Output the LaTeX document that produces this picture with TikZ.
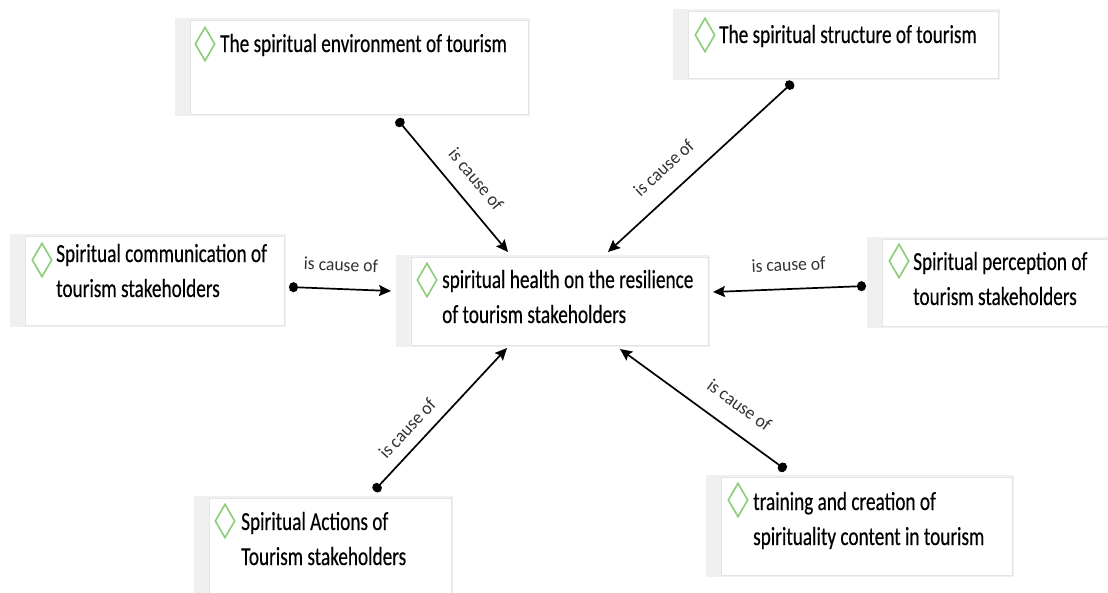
\documentclass[tikz,border=0pt]{standalone}
\usepackage{fontspec}
\newfontfamily\boxfont[FakeStretch=0.74,FakeBold=0.35]{Carlito}
\newfontfamily\labfont[FakeStretch=0.95]{Carlito}
\usetikzlibrary{arrows.meta,shapes.geometric}
\definecolor{framegrey}{RGB}{240,240,240}
\definecolor{innerline}{RGB}{228,228,228}
\definecolor{diamgreen}{RGB}{140,205,120}
\definecolor{labelgrey}{RGB}{50,50,50}
\tikzset{
  outerbox/.style={rectangle, fill=framegrey, draw=none, inner sep=0pt, anchor=north west},
  innerbox/.style={fill=white, draw=innerline, line width=0.8pt},
  diam/.style={diamond, draw=diamgreen, line width=1.6pt, minimum width=20pt, minimum height=34pt, inner sep=0pt},
  boxtext/.style={font=\boxfont\fontsize{26}{35}\selectfont, text=black, align=left, inner sep=0pt, anchor=base west},
  rel/.style={line width=1.7pt, black, {Circle[length=9pt,width=10pt]}-{Stealth[length=12pt,width=11pt,inset=2pt]}},
  elab/.style={font=\labfont\fontsize{18.5}{22}\selectfont, text=labelgrey, inner sep=0pt, sloped}
}
\begin{document}
\begin{tikzpicture}[x=1pt,y=-1pt]
\useasboundingbox (0,0) rectangle (1108,592);
% boxes
\node[outerbox, minimum width=355pt, minimum height=98pt] (b1) at (175,18) {};
\node[outerbox, minimum width=327pt, minimum height=71pt] (b2) at (673,9) {};
\node[outerbox, minimum width=276pt, minimum height=93pt] (b3) at (10,234) {};
\node[outerbox, minimum width=314pt, minimum height=92pt] (bc) at (396,255) {};
\node[outerbox, minimum width=245pt, minimum height=91pt] (b5) at (867,237) {};
\node[outerbox, minimum width=259pt, minimum height=100pt] (b6) at (194,496) {};
\node[outerbox, minimum width=308pt, minimum height=102pt] (b7) at (706,475) {};
\foreach \b in {b1,b2,b3,bc,b5,b6,b7}{
  \draw[innerbox] ([xshift=15pt,yshift=-2pt]\b.north west) rectangle ([xshift=-2pt,yshift=2pt]\b.south east);
}
% diamonds
\node[diam] (d1) at (205,44) {};
\node[diam] (d2) at (705,35) {};
\node[diam] (d3) at (42,260) {};
\node[diam] (dc) at (427,280) {};
\node[diam] (d5) at (899,261) {};
\node[diam] (d6) at (225,521) {};
\node[diam] (d7) at (738,500) {};
% texts (base anchor = baseline of the last line)
\node[boxtext] (t1) at (220,52) {The spiritual environment of tourism};
\node[boxtext] (t2) at (719,43) {The spiritual structure of tourism};
\node[boxtext] (t3) at (56,297) {Spiritual communication of\\tourism stakeholders};
\node[boxtext] (tc) at (442,323) {spiritual health on the resilience\\of tourism stakeholders};
\node[boxtext] (t5) at (913,305) {Spiritual perception of\\tourism stakeholders};
\node[boxtext] (t6) at (241,565) {Spiritual Actions of\\Tourism stakeholders};
\node[boxtext] (t7) at (753,545) {training and creation of\\spirituality content in tourism};
% connector ends
\coordinate (e1s) at (397,119);
\coordinate (e1e) at (508,252);
\coordinate (e2s) at (793,82);
\coordinate (e2e) at (608,252);
\coordinate (e3s) at (289,287);
\coordinate (e3e) at (391,291);
\coordinate (e4s) at (866,286);
\coordinate (e4e) at (713,292);
\coordinate (e5s) at (374,491);
\coordinate (e5e) at (507,348);
\coordinate (e6s) at (786,470);
\coordinate (e6e) at (620,349);
% connectors
\draw[rel] (e1s) -- node[elab, pos=0.56, above=15pt] {is cause of} (e1e);
\draw[rel] (e2s) -- node[elab, pos=0.61, above=17pt] {is cause of} (e2e);
\draw[rel] (e3s) -- node[elab, pos=0.5, above=17pt] {is cause of} (e3e);
\draw[rel] (e4s) -- node[elab, pos=0.5, above=17pt] {is cause of} (e4e);
\draw[rel] (e5s) -- node[elab, pos=0.35, above=11pt] {is cause of} (e5e);
\draw[rel] (e6s) -- node[elab, pos=0.37, above=18pt] {is cause of} (e6e);
\end{tikzpicture}
\end{document}
